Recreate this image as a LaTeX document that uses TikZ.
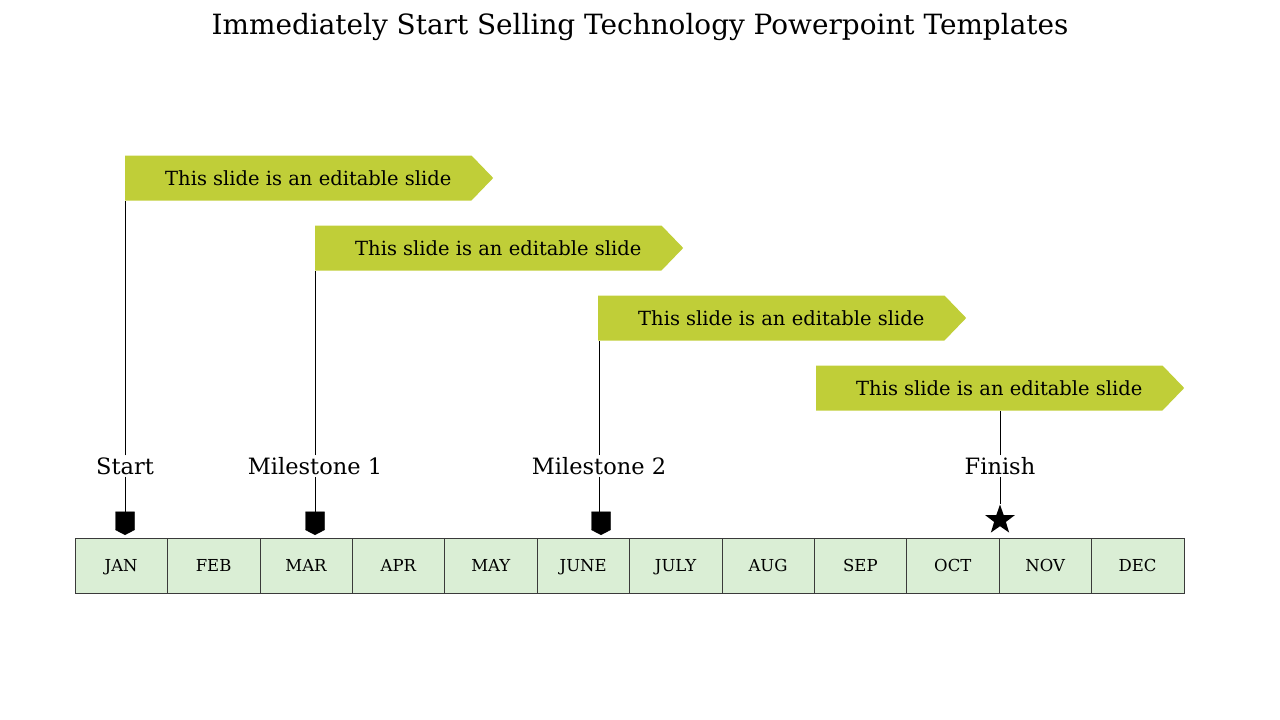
\documentclass[tikz,border=0pt]{standalone}
\usepackage{fontspec}
\setmainfont{DejaVu Serif}
\usetikzlibrary{shapes.symbols,shapes.geometric}
\definecolor{bannergreen}{HTML}{C0CE38}
\definecolor{cellgreen}{HTML}{DAEED5}
\definecolor{cellline}{HTML}{3A3A3A}
\tikzset{%
  banner/.style   = {shape=signal, signal to=east, signal from=nowhere,%
                     signal pointer angle=92, fill=bannergreen,%
                     minimum width=368pt, minimum height=45pt, inner sep=0pt,%
                     font=\fontsize{19.5}{22}\selectfont},%
  milestone/.style= {font=\fontsize{22.5}{26}\selectfont, inner sep=2pt},%
  marker/.style   = {shape=signal, signal to=south, signal from=nowhere,%
                     signal pointer angle=125, fill=black, draw=black,%
                     minimum width=19pt, minimum height=18pt, inner sep=0pt},%
  month/.style    = {shape=rectangle, draw=cellline, fill=cellgreen,%
                     minimum width=92.4pt, minimum height=55pt, inner sep=0pt,%
                     text height=12pt, text depth=0pt,%
                     font=\fontsize{16.5}{19}\selectfont},%
  stem/.style     = {draw=black, line width=0.8pt}%
}

\begin{document}
\begin{tikzpicture}[x=1pt,y=-1pt]
	\useasboundingbox (0,0) rectangle (1280,720);
	\node (title) at (640,27) {\fontsize{27.9}{32}\selectfont Immediately Start Selling Technology Powerpoint Templates};
	% month bar
	\foreach \m [count=\i] in {JAN,FEB,MAR,APR,MAY,JUNE,JULY,AUG,SEP,OCT,NOV,DEC}
		\node [month] (m\i) at ({75+92.4*(\i-0.5)},565.5) {\m};
	% banners
	\node [banner, anchor=west] (b1) at (125,178) {\hspace*{20pt}This slide is an editable slide};
	\node [banner, anchor=west] (b2) at (315,248) {\hspace*{20pt}This slide is an editable slide};
	\node [banner, anchor=west] (b3) at (598,318) {\hspace*{20pt}This slide is an editable slide};
	\node [banner, anchor=west] (b4) at (816,388) {\hspace*{20pt}This slide is an editable slide};
	% labels
	\node [milestone] (start) at (125,466) {Start};
	\node [milestone] (ms1)   at (315,466) {Milestone 1};
	\node [milestone] (ms2)   at (599,466) {Milestone 2};
	\node [milestone] (fin)   at (1000,466) {Finish};
	% markers
	\node [marker, anchor=south] (k1) at (125,535) {};
	\node [marker, anchor=south] (k2) at (315,535) {};
	\node [marker, anchor=south] (k3) at (601,535) {};
	\node [star, star points=5, star point ratio=2.5, fill=black, inner sep=0pt,%
	       minimum size=31pt] (k4) at (1000,520) {};
	% stems
	\draw [stem] (start.north) -- (start.north |- b1.south);
	\draw [stem] (ms1.north) -- (ms1.north |- b2.south);
	\draw [stem] (ms2.north) -- (ms2.north |- b3.south);
	\draw [stem] (fin.north) -- (fin.north |- b4.south);
	\draw [stem] (start.south) -- (k1.north);
	\draw [stem] (ms1.south) -- (k2.north);
	\draw [stem] (ms2.south) -- (ms2.south |- k3.north);
	\draw [stem] (fin.south) -- (k4.north);
\end{tikzpicture}
\end{document}
